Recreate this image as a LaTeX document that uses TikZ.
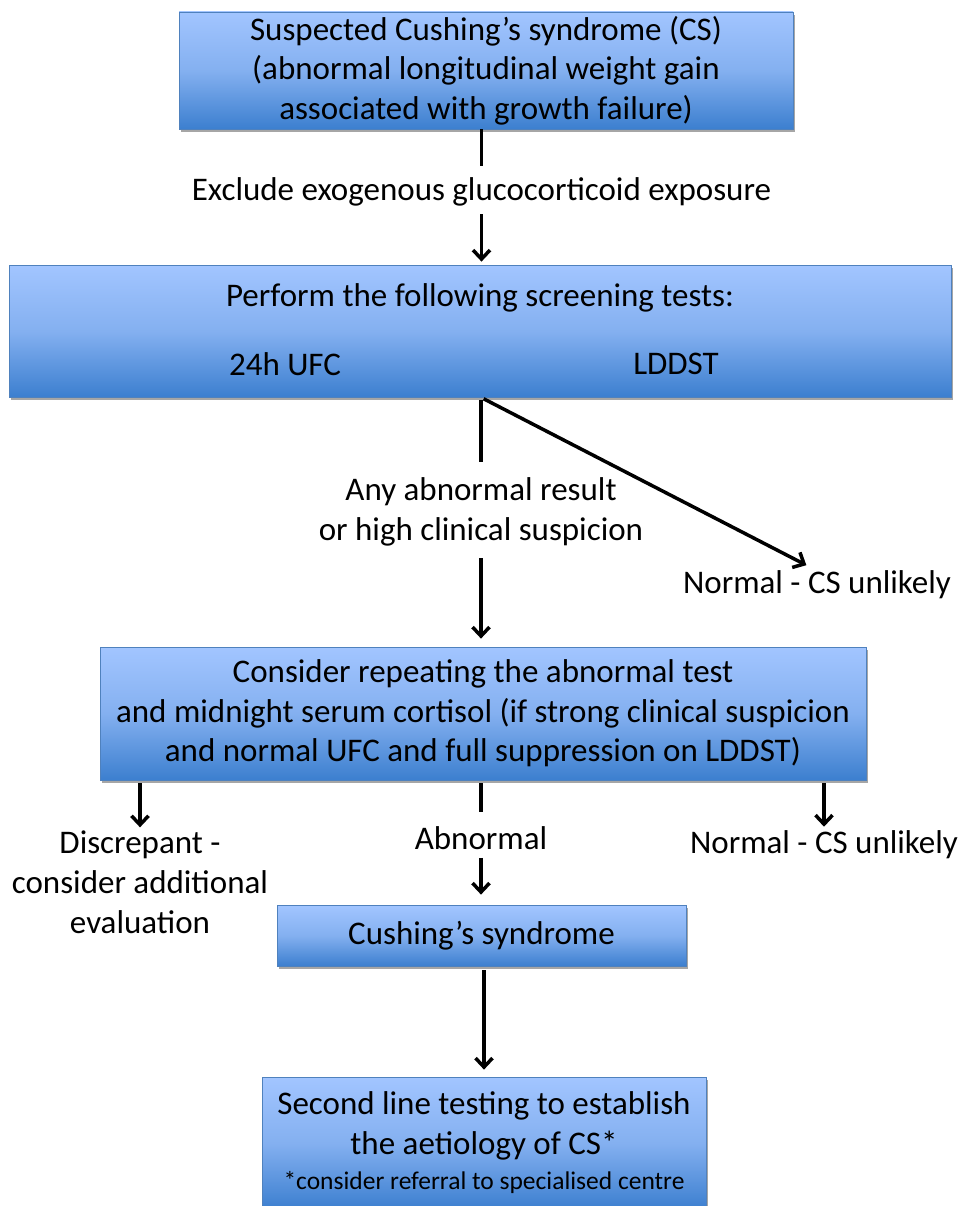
\documentclass[tikz,border=0pt]{standalone}
\usepackage{fontspec}
\setmainfont{Carlito}
\usetikzlibrary{arrows.meta,shadows,calc}
\definecolor{boxtop}{RGB}{162,197,255}
\definecolor{boxmid}{RGB}{132,176,240}
\definecolor{boxbot}{RGB}{60,127,207}
\definecolor{boxline}{RGB}{79,129,189}
\tikzset{
  box/.style={draw=boxline, line width=0.8pt, top color=boxtop, bottom color=boxbot, middle color=boxmid,
    drop shadow={shadow xshift=2pt, shadow yshift=-3pt, opacity=0.35, fill=black},
    inner sep=0pt, align=center, font=\fontsize{33}{39.5}\selectfont},
  lbl/.style={inner sep=0pt, align=center, font=\fontsize{33}{40}\selectfont},
  ln/.style={line width=3.5pt, black},
  arr/.style={ln, -{Straight Barb[length=9pt,width=17pt,line width=3.5pt]}}
}
\begin{document}
\begin{tikzpicture}[x=1pt,y=-1pt]
\useasboundingbox (0,0) rectangle (959,1206);
% boxes
\node[box, minimum width=614pt, minimum height=117pt] (b1) at (486,70.5)
  {Suspected Cushing’s syndrome (CS)\\(abnormal longitudinal weight gain\\associated with growth failure)};
\node[box, minimum width=942pt, minimum height=132pt] (b2) at (480,331) {};
\node[lbl] (t2a) at (480,298) {Perform the following screening tests:};
\node[lbl] (t2b) at (285,364) {24h UFC};
\node[lbl] (t2c) at (676,364) {LDDST};
\node[box, minimum width=766pt, minimum height=133pt] (b3) at (483,713.5)
  {Consider repeating the abnormal test\\and midnight serum cortisol (if strong clinical suspicion\\and normal UFC and full suppression on LDDST)};
\node[box, minimum width=409pt, minimum height=61pt] (b4) at (481.5,935.5) {Cushing’s syndrome};
\node[box, minimum width=444pt, minimum height=132pt] (b5) at (484,1143)
  {Second line testing to establish\\the aetiology of CS*\\[-4pt]{\fontsize{25.5}{30}\selectfont *consider referral to specialised centre}};
% labels
\node[lbl] (l1) at (481.5,192) {Exclude exogenous glucocorticoid exposure};
\node[lbl] (l2) at (481,512) {Any abnormal result\\or high clinical suspicion};
\node[lbl] (l3) at (817,585) {Normal - CS unlikely};
\node[lbl] (l4) at (140,882) {Discrepant -\\consider additional\\evaluation};
\node[lbl] (l5) at (481,838) {Abnormal};
\node[lbl] (l6) at (824,845) {Normal - CS unlikely};
% connectors
\draw[ln, shorten >=12pt] (b1.south -| l1.north) -- (l1.north);
\draw[arr, shorten <=8pt, shorten >=3pt] (l1.south) -- (b2.north -| l1.south);
\draw[ln, shorten <=3pt, shorten >=16pt] (b2.south -| l2.north) -- (l2.north);
\draw[arr, shorten <=12pt, shorten >=8pt] (l2.south) -- (b3.north -| l2.south);
\draw[arr, shorten <=3pt, shorten >=12pt] (b2.south -| l2.north) -- (l3.north);
\draw[arr, shorten <=3pt, shorten >=3pt] (b3.south -| l4.north) -- (l4.north);
\draw[ln, shorten <=3pt, shorten >=14pt] (b3.south -| l5.north) -- (l5.north);
\draw[arr, shorten <=8pt, shorten >=10pt] (l5.south) -- (b4.north -| l5.south);
\draw[arr, shorten <=3pt, shorten >=4pt] (b3.south -| l6.north) -- (l6.north);
\draw[arr, shorten <=4pt, shorten >=7pt] (b4.south -| b5.north) -- (b5.north);
\end{tikzpicture}
\end{document}
